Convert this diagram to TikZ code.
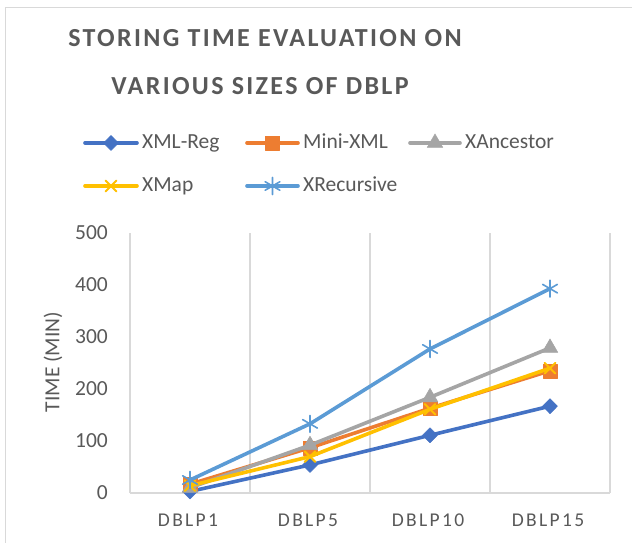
\documentclass[tikz,border=0pt]{standalone}
\usepackage{fontspec}
\setmainfont{Carlito}
\newfontfamily\titlefont[LetterSpace=9]{Carlito}
\newfontfamily\catfont[LetterSpace=12]{Carlito}
\usetikzlibrary{plotmarks}
\definecolor{txtgray}{HTML}{595959}
\definecolor{gridgray}{HTML}{D9D9D9}
\definecolor{regblue}{HTML}{4472C4}
\definecolor{miniorange}{HTML}{ED7D31}
\definecolor{ancgray}{HTML}{A5A5A5}
\definecolor{mapyellow}{HTML}{FFC000}
\definecolor{recblue}{HTML}{5B9BD5}
\tikzset{
  series/.style={line width=3.6pt, line join=round, line cap=round},
  gridline/.style={gridgray, line width=1.5pt},
  titletext/.style={text=txtgray, font=\titlefont\bfseries\fontsize{26}{30}\selectfont, inner sep=0pt, anchor=base},
  ticklabel/.style={text=txtgray, font=\fontsize{21.5}{25}\selectfont, inner sep=0pt},
  catlabel/.style={text=txtgray, font=\catfont\fontsize{19.5}{24}\selectfont, inner sep=0pt},
  regmark/.style={mark=diamond*, mark size=7.5pt, mark options={solid, xscale=1.33, line width=0.5pt, draw=regblue, fill=regblue}},
  minimark/.style={mark=square*, mark size=7pt, mark options={solid, line width=0.5pt, draw=miniorange, fill=miniorange}},
  ancmark/.style={mark=triangle*, mark size=9pt, mark options={solid, line width=0.5pt, draw=ancgray, fill=ancgray}},
  mapmark/.style={mark=x, mark size=7.5pt, mark options={solid, line width=2pt, draw=mapyellow}},
  recmark/.style={mark=asterisk, mark size=8.5pt, mark options={solid, line width=1.6pt, draw=recblue}},
}

\begin{document}
\begin{tikzpicture}[x=1pt,y=1pt]
\useasboundingbox (0,0) rectangle (632,543);
\fill[white] (0,0) rectangle (632,543);
% chart border
\draw[gridline] (5.5,0) -- (5.5,535.5) -- (632,535.5);

% title
\node[titletext] (title1) at (265,496) {STORING TIME EVALUATION ON};
\node[titletext] (title2) at (260,448) {VARIOUS SIZES OF DBLP};

% legend
\draw[series,regblue] plot[regmark, mark indices={2}] coordinates {(85,400) (111,400) (137,400)};
\node[ticklabel, anchor=base west] (legreg) at (142,394) {XML-Reg};
\draw[series,miniorange] plot[minimark, mark indices={2}] coordinates {(247,400) (272.5,400) (298,400)};
\node[ticklabel, anchor=base west] (legmini) at (303,394) {Mini-XML};
\draw[series,ancgray] plot[ancmark, mark indices={2}] coordinates {(410,400) (435,400) (460,400)};
\node[ticklabel, anchor=base west] (leganc) at (465,394) {XAncestor};
\draw[series,mapyellow] plot[mapmark, mark indices={2}] coordinates {(85,357) (111,357) (137,357)};
\node[ticklabel, anchor=base west] (legmap) at (142,351) {XMap};
\draw[series,recblue] plot[recmark, mark indices={2}] coordinates {(247,357) (272.5,357) (298,357)};
\node[ticklabel, anchor=base west] (legrec) at (303,351) {XRecursive};

% axis title
\node[ticklabel, rotate=90] (ytitle) at (53,181) {TIME (MIN)};

% plot area: origin at (130,50), 0.52pt per minute
\begin{scope}[shift={(130,50)}, y=0.52pt]
\draw[gridline] (0,0) -- (0,500);
\draw[gridline] (120,0) -- (120,500);
\draw[gridline] (240,0) -- (240,500);
\draw[gridline] (360,0) -- (360,500);
\draw[gridline] (480,0) -- (480,500);
\draw[gridline] (0,0) -- (480,0);

\node[ticklabel, anchor=east] (y0) at (-22,0) {0};
\node[ticklabel, anchor=east] (y100) at (-22,100) {100};
\node[ticklabel, anchor=east] (y200) at (-22,200) {200};
\node[ticklabel, anchor=east] (y300) at (-22,300) {300};
\node[ticklabel, anchor=east] (y400) at (-22,400) {400};
\node[ticklabel, anchor=east] (y500) at (-22,500) {500};

\node[catlabel, anchor=base] (c1) at (58,-63.5) {DBLP1};
\node[catlabel, anchor=base] (c5) at (178,-63.5) {DBLP5};
\node[catlabel, anchor=base] (c10) at (298,-63.5) {DBLP10};
\node[catlabel, anchor=base] (c15) at (418,-63.5) {DBLP15};

% series
\draw[series,regblue] plot[regmark] coordinates {(60,3) (180,54) (300,111) (420,167)};
\draw[series,miniorange] plot[minimark] coordinates {(60,17) (180,87) (300,163) (420,235)};
\draw[series,ancgray] plot[ancmark] coordinates {(60,10) (180,92) (300,184) (420,279)};
\draw[series,mapyellow] plot[mapmark] coordinates {(60,14) (180,70) (300,161) (420,240)};
\draw[series,recblue] plot[recmark] coordinates {(60,25) (180,133) (300,277) (420,393)};
\end{scope}
\end{tikzpicture}
\end{document}
